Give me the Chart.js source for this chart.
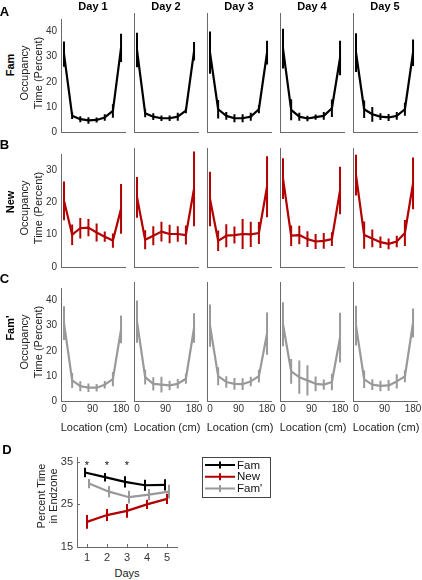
<!DOCTYPE html>
<html><head><meta charset="utf-8">
<script src="https://cdn.jsdelivr.net/npm/chart.js@4.4.1/dist/chart.umd.min.js"></script>
<style>
html,body{margin:0;padding:0;background:#fff}
body{width:422px;height:580px;position:relative;overflow:hidden;font-family:"Liberation Sans",Arial,sans-serif}
canvas{position:absolute}
.t{position:absolute;white-space:nowrap;line-height:1;color:#1a1a1a}
</style></head><body>
<script>
// ---------------- data ----------------
const locations = [0, 25.7, 51.4, 77.1, 102.9, 128.6, 154.3, 180];
const dayTitles = ['Day 1', 'Day 2', 'Day 3', 'Day 4', 'Day 5'];
const locationTicks = [0, 90, 180];
const occTicksFam = [0, 10, 20, 30, 40];
const occTicksNew = [0, 10, 20, 30];

const famMean = [
  [31, 6.5, 5.1, 4.6, 4.8, 5.8, 8.4, 33.5],
  [31, 7.1, 5.8, 5.2, 5.2, 5.8, 8.1, 30.5],
  [30, 8.6, 6.1, 5.2, 5.2, 5.8, 8.6, 30],
  [31.5, 8.4, 5.8, 5.1, 5.6, 6.1, 9, 28],
  [30, 8.6, 6.7, 5.8, 5.5, 6.1, 8.6, 30]
];
const famErr = [
  [5, 1.3, 1.2, 1.3, 1, 1.3, 2.7, 5.6],
  [6.5, 1.5, 1.3, 1, 1, 1.5, 1, 3.5],
  [8, 3.5, 1.5, 1.5, 1.5, 1.5, 1.5, 4.5],
  [7.5, 4, 1.5, 1, 1, 1.5, 3.3, 6.5],
  [7.3, 3.3, 2.8, 1.3, 1.3, 1.5, 2.5, 5]
];
const newMean = [
  [20.5, 10, 12, 12.2, 10.7, 9.4, 8.2, 18],
  [20.5, 8, 9.2, 10.4, 9.7, 9.7, 9.4, 23],
  [20, 7.7, 9.2, 9.4, 9.7, 9.6, 10, 23.6],
  [26, 9.2, 9.4, 8.2, 7.5, 7.7, 8.2, 22.5],
  [27, 9.4, 8.4, 7.3, 6.8, 7.5, 10, 24.6]
];
const newErr = [
  [6, 3.2, 3.2, 2.7, 2.8, 1.6, 2.2, 7.7],
  [6, 2.8, 2.8, 2.9, 2.7, 2.3, 2.8, 11],
  [8, 3, 3.4, 2.5, 4.4, 3.7, 3.2, 9],
  [6, 3, 2.7, 2.3, 2.2, 2.3, 2, 7],
  [6, 4, 2.6, 1.7, 1.6, 1.7, 3.8, 7.6]
];
const famPMean = [
  [31, 8.2, 5.9, 5.3, 5.3, 6.5, 8.7, 28.5],
  [30, 9, 6.5, 6.2, 5.9, 6.5, 8.4, 27.6],
  [28.5, 9.4, 7.2, 6.5, 6.4, 7.4, 9.4, 25.5],
  [29, 11.2, 9, 7.8, 6.5, 6.2, 7.2, 24],
  [28.5, 8.2, 6.2, 5.7, 5.9, 7.4, 9.3, 29.5]
];
const famPErr = [
  [6.7, 3, 2, 1.7, 1.5, 1.5, 2.8, 5.5],
  [8, 2.8, 2.5, 3, 1.8, 1.8, 1.9, 5.6],
  [8, 3.4, 2.2, 2.2, 2.2, 1.8, 2.4, 8],
  [8.3, 4.7, 6.3, 5.7, 2.8, 1.9, 3.1, 9.4],
  [7.5, 3.3, 2, 2, 2, 2.7, 2.2, 5.5]
];

const days = [1, 2, 3, 4, 5];
const endFamMean = [32.5, 31.4, 30.3, 29.5, 29.6];
const endFamErr = [1.1, 1.0, 1.3, 1.3, 1.3];
const endNewMean = [20.9, 22.5, 23.5, 25.0, 26.3];
const endNewErr = [1.6, 1.4, 1.6, 1.1, 1.2];
const endFamPMean = [29.9, 28.0, 26.7, 27.3, 28.0];
const endFamPErr = [1.1, 1.3, 1.5, 1.3, 1.6];
const starDays = [1, 2, 3];
const endTicksY = [15, 25, 35];
const seriesNames = ['Fam', 'New', "Fam'"];

// ---------------- style / layout ----------------
const FONT = "'Liberation Sans', Arial, sans-serif";
Chart.defaults.font.family = FONT;
const axisGrey = '#6a6a6a';
const tickGrey = '#333';
const cBlack = '#000000', cRed = '#b30000', cGrey = '#999999';
const panelLefts = [61, 134, 207, 280, 353];
const rowTops = [13, 148, 282];
const PW = 64, PH = 119;

function addText(txt, cx, cy, size, bold, rot, color) {
  const d = document.createElement('div');
  d.className = 't';
  d.textContent = txt;
  d.style.left = cx + 'px';
  d.style.top = cy + 'px';
  d.style.fontSize = size + 'px';
  d.style.fontWeight = bold ? 'bold' : 'normal';
  if (color) d.style.color = color;
  d.style.transform = 'translate(-50%,-50%)' + (rot ? ' rotate(-90deg)' : '');
  document.body.appendChild(d);
}
function makeCanvas(left, top, w, h) {
  const c = document.createElement('canvas');
  c.width = w; c.height = h;
  c.style.left = left + 'px'; c.style.top = top + 'px';
  c.style.width = w + 'px'; c.style.height = h + 'px';
  document.body.appendChild(c);
  return c;
}

const errorBars = {
  id: 'errorBars',
  afterDatasetsDraw(chart) {
    const { ctx } = chart;
    const x = chart.scales.x, y = chart.scales.y;
    chart.data.datasets.forEach(ds => {
      if (!ds.err) return;
      ctx.save();
      ctx.strokeStyle = ds.borderColor;
      ctx.lineWidth = 2;
      ctx.lineCap = 'butt';
      ctx.beginPath();
      ds.data.forEach((p, j) => {
        const px = x.getPixelForValue(p.x);
        ctx.moveTo(px, y.getPixelForValue(p.y - ds.err[j]));
        ctx.lineTo(px, y.getPixelForValue(p.y + ds.err[j]));
      });
      ctx.stroke();
      ctx.restore();
    });
  }
};

function smallPanel(col, row, means, errs, color, yMax, yTicks) {
  const ML = col === 0 ? 36 : 4, MR = 10, MT = 4, MB = 22;
  const left = panelLefts[col], top = rowTops[row];
  const cv = makeCanvas(left - ML, top - MT, ML + PW + MR, MT + PH + MB);
  const showX = row === 2, showY = col === 0;
  new Chart(cv, {
    type: 'line',
    data: { datasets: [{
      data: locations.map((x, i) => ({ x: x, y: means[i] })),
      err: errs,
      borderColor: color, borderWidth: 2.2, pointRadius: 0, tension: 0, fill: false,
      borderJoinStyle: 'round'
    }] },
    options: {
      responsive: false, animation: false, devicePixelRatio: 1, events: [],
      layout: { padding: { left: 0, right: MR, top: MT, bottom: 0 } },
      plugins: { legend: { display: false }, tooltip: { enabled: false } },
      scales: {
        x: {
          type: 'linear', min: -9.5, max: 192.5,
          grid: { display: false, drawTicks: false },
          border: { display: true, color: axisGrey, width: 1 },
          ticks: { display: showX, color: tickGrey, font: { size: 10 }, padding: 2, maxRotation: 0, autoSkip: false },
          afterBuildTicks: s => { s.ticks = locationTicks.map(v => ({ value: v })); },
          afterFit: s => { s.height = MB; }
        },
        y: {
          type: 'linear', min: 0, max: yMax,
          grid: { display: false, drawTicks: false },
          border: { display: true, color: axisGrey, width: 1 },
          ticks: { display: showY, color: tickGrey, font: { size: 10 }, padding: 4 },
          afterBuildTicks: s => { s.ticks = yTicks.map(v => ({ value: v })); },
          afterFit: s => { s.width = ML; }
        }
      }
    },
    plugins: [errorBars]
  });
}

for (let d = 0; d < 5; d++) {
  smallPanel(d, 0, famMean[d], famErr[d], cBlack, 45, occTicksFam);
  smallPanel(d, 1, newMean[d], newErr[d], cRed, 35, occTicksNew);
  smallPanel(d, 2, famPMean[d], famPErr[d], cGrey, 45, occTicksFam);
  addText(dayTitles[d], panelLefts[d] + PW / 2, 5.5, 11, true, false, '#000');
  addText('Location (cm)', panelLefts[d] + PW / 2 + 1, 426.5, 11, false, false, '#222');
}

// row labels
const rowLetters = ['A', 'B', 'C'];
const rowLetterY = [11, 144, 278];
const rowNameY = [65, 202, 328];
const rowNames = ['Fam', 'New', "Fam'"];
for (let r = 0; r < 3; r++) {
  const cy = rowTops[r] + PH / 2;
  addText(rowLetters[r], 4.5, rowLetterY[r], 13, true, false, '#000');
  addText(rowNames[r], 10, rowNameY[r], 11, true, true, '#000');
  addText('Occupancy', 24, cy, 11, false, true, '#222');
  addText('Time (Percent)', 37.5, cy, 11, false, true, '#222');
}

// ---------------- panel D ----------------
addText('D', 7, 449, 13, true, false, '#000');
addText('Percent Time', 41, 496, 11, false, true, '#222');
addText('in Endzone', 53, 496, 11, false, true, '#222');
addText('Days', 127, 573, 11, false, false, '#222');

const dExtras = {
  id: 'dExtras',
  afterDraw(chart) {
    const { ctx, chartArea: ca } = chart;
    const x = chart.scales.x, y = chart.scales.y;
    ctx.save();
    // inward tick marks
    ctx.strokeStyle = axisGrey; ctx.lineWidth = 1;
    ctx.beginPath();
    days.forEach(d => {
      const px = Math.round(x.getPixelForValue(d)) + 0.5;
      ctx.moveTo(px, ca.bottom); ctx.lineTo(px, ca.bottom - 3);
    });
    endTicksY.forEach(v => {
      const py = Math.round(y.getPixelForValue(v)) + 0.5;
      ctx.moveTo(ca.left, py); ctx.lineTo(ca.left + 3, py);
    });
    ctx.stroke();
    // significance stars
    ctx.fillStyle = '#111';
    ctx.font = '11px ' + FONT;
    ctx.textAlign = 'center';
    ctx.textBaseline = 'alphabetic';
    starDays.forEach(d => {
      ctx.fillText('*', x.getPixelForValue(d), y.getPixelForValue(35) + 7);
    });
    // legend box
    const lx = ca.right + 25, ly = ca.top - 1, lw = 68, lh = 40;
    ctx.strokeStyle = '#444'; ctx.lineWidth = 1;
    ctx.strokeRect(Math.round(lx) + 0.5, Math.round(ly) + 0.5, lw, lh);
    ctx.textAlign = 'left'; ctx.textBaseline = 'middle';
    ctx.font = '11.5px ' + FONT;
    chart.data.datasets.forEach((ds, i) => {
      const cy = ly + 8.5 + i * 11.7;
      ctx.strokeStyle = ds.borderColor; ctx.lineWidth = 2;
      ctx.beginPath();
      ctx.moveTo(lx + 3, cy); ctx.lineTo(lx + 33, cy);
      ctx.moveTo(lx + 18, cy - 3.5); ctx.lineTo(lx + 18, cy + 3.5);
      ctx.stroke();
      ctx.fillStyle = '#111';
      ctx.fillText(ds.label, lx + 35, cy + 0.5);
    });
    ctx.restore();
  }
};

(function () {
  const L = 77, T = 453, W = 100, H = 94, ML = 45, MR = 115, MT = 6, MB = 22;
  const cv = makeCanvas(L - ML, T - MT, ML + W + MR, MT + H + MB);
  const mk = (label, means, errs, color, shift) => ({
    label: label,
    data: days.map((d, i) => ({ x: d + shift, y: means[i] })),
    err: errs,
    borderColor: color, borderWidth: 2.2, pointRadius: 0, tension: 0, fill: false
  });
  new Chart(cv, {
    type: 'line',
    data: { datasets: [
      mk(seriesNames[0], endFamMean, endFamErr, cBlack, -0.1),
      mk(seriesNames[1], endNewMean, endNewErr, cRed, 0),
      mk(seriesNames[2], endFamPMean, endFamPErr, cGrey, 0.1)
    ] },
    options: {
      responsive: false, animation: false, devicePixelRatio: 1, events: [],
      layout: { padding: { left: 0, right: MR, top: MT, bottom: 0 } },
      plugins: { legend: { display: false }, tooltip: { enabled: false } },
      scales: {
        x: {
          type: 'linear', min: 0.5, max: 5.5,
          grid: { display: false, drawTicks: false },
          border: { display: true, color: axisGrey, width: 1 },
          ticks: { color: tickGrey, font: { size: 11 }, padding: 4, maxRotation: 0, autoSkip: false },
          afterBuildTicks: s => { s.ticks = days.map(v => ({ value: v })); },
          afterFit: s => { s.height = MB; }
        },
        y: {
          type: 'linear', min: 15, max: 36,
          grid: { display: false, drawTicks: false },
          border: { display: true, color: axisGrey, width: 1 },
          ticks: { color: tickGrey, font: { size: 11 }, padding: 4 },
          afterBuildTicks: s => { s.ticks = endTicksY.map(v => ({ value: v })); },
          afterFit: s => { s.width = ML; }
        }
      }
    },
    plugins: [errorBars, dExtras]
  });
})();
</script>
</body></html>
